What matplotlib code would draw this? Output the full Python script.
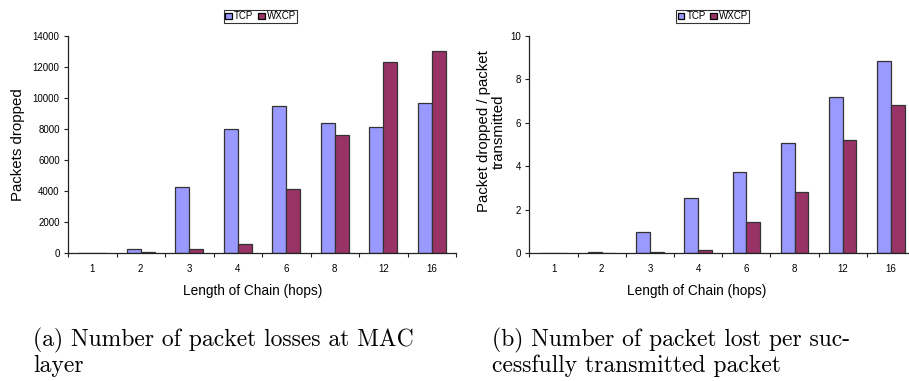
import matplotlib.pyplot as plt
import numpy as np

hops = ["1", "2", "3", "4", "6", "8", "12", "16"]

# (a) packets dropped at MAC layer
tcp_dropped = [0, 250, 4250, 8000, 9480, 8400, 8100, 9680]
wxcp_dropped = [0, 60, 250, 580, 4120, 7620, 12300, 13030]

# (b) packets dropped per packet transmitted
tcp_ratio = [0, 0.03, 0.96, 2.53, 3.75, 5.05, 7.17, 8.84]
wxcp_ratio = [0, 0.02, 0.05, 0.15, 1.45, 2.79, 5.19, 6.80]

TCP_COLOR = "#9999FF"
WXCP_COLOR = "#993366"
EDGE = "#333333"
SANS = ["Liberation Sans", "DejaVu Sans"]
SERIF = ["cmr10", "DejaVu Serif"]

W, H = 909, 381
fig = plt.figure(figsize=(W / 100, H / 100), dpi=100)


def px_axes(x0, x1, top, bottom):
    return fig.add_axes([x0 / W, 1 - bottom / H, (x1 - x0) / W, (bottom - top) / H])


def bar_panel(ax, tcp, wxcp, ymax, ystep, ylabel, xlab_x, ylab_xy, leg_x):
    x = np.arange(len(hops))
    bw = 0.286
    ax.bar(x - bw / 2, tcp, bw, color=TCP_COLOR, edgecolor=EDGE, linewidth=0.9, label="TCP")
    ax.bar(x + bw / 2, wxcp, bw, color=WXCP_COLOR, edgecolor=EDGE, linewidth=0.9, label="WXCP")

    ax.set_xlim(-0.5, len(hops) - 0.5)
    ax.set_ylim(0, ymax)
    ax.set_yticks(np.arange(0, ymax + ystep / 2, ystep))

    # category labels at centres, tick marks at boundaries (Excel style)
    ax.set_xticks(x)
    ax.set_xticklabels(hops)
    ax.tick_params(axis="x", length=0, pad=8)
    ax.set_xticks(np.arange(-0.5, len(hops)), minor=True)
    ax.tick_params(axis="x", which="minor", length=3, width=0.8, color="#222222")
    ax.tick_params(axis="y", length=3, width=0.8, color="#222222", pad=3)
    for lab in ax.get_xticklabels() + ax.get_yticklabels():
        lab.set_fontfamily(SANS)
        lab.set_fontsize(7)

    for s in ["top", "right"]:
        ax.spines[s].set_visible(False)
    for s in ["left", "bottom"]:
        ax.spines[s].set_color("#222222")
        ax.spines[s].set_linewidth(0.9)

    ax.set_xlabel("Length of Chain (hops)", fontsize=9.8, family=SANS)
    ax.xaxis.set_label_coords(xlab_x, -0.145)
    ax.set_ylabel(ylabel, fontsize=10.8, family=SANS, linespacing=1.0)
    ax.yaxis.label.set_multialignment("center")
    ax.yaxis.set_label_coords(*ylab_xy)

    leg = ax.legend(loc="center", bbox_to_anchor=(leg_x, 1.09), ncol=2,
                    prop={"family": SANS, "size": 7}, frameon=True, fancybox=False,
                    handlelength=0.7, handleheight=0.7, handletextpad=0.2,
                    columnspacing=0.5, borderpad=0.12, borderaxespad=0)
    leg.get_frame().set_edgecolor("#000000")
    leg.get_frame().set_linewidth(0.8)
    for h in leg.legend_handles:
        h.set_edgecolor("#000000")


ax1 = px_axes(68, 456, 36, 253)
bar_panel(ax1, tcp_dropped, wxcp_dropped, 14000, 2000, "Packets dropped",
          0.475, (-0.11, 0.5), 0.496)

ax2 = px_axes(529.4, 915, 36, 253)
bar_panel(ax2, tcp_ratio, wxcp_ratio, 10, 2, "Packet dropped / packet\ntransmitted",
          0.435, (-0.062, 0.56), 0.476)

captions = [
    (33, ["(a) Number of packet losses at MAC", "layer"]),
    (492, ["(b) Number of packet lost per suc-", "cessfully transmitted packet"]),
]
for x0, lines in captions:
    for i, line in enumerate(lines):
        fig.text(x0 / W, 1 - (346 + 26 * i) / H, line, family=SERIF, fontsize=17,
                 va="baseline", ha="left")

fig.savefig("out.png", dpi=100)
